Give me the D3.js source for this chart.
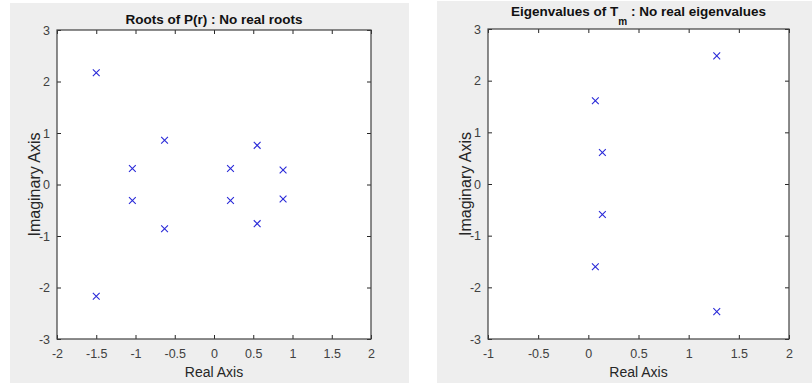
<!DOCTYPE html>
<html><head><meta charset="utf-8">
<script src="https://cdn.jsdelivr.net/npm/d3@7"></script>
<style>body{margin:0;background:#fff}svg{display:block;font-family:"Liberation Sans",Arial,sans-serif}</style>
</head><body><svg id="c" width="812" height="383"></svg>
<script>
// Data
const leftRe = [-1.5, -1.5, -1.04, -1.04, -0.63, -0.63, 0.21, 0.21, 0.55, 0.55, 0.88, 0.88];
const leftIm = [2.17, -2.17, 0.31, -0.31, 0.86, -0.86, 0.31, -0.31, 0.76, -0.76, 0.28, -0.28];
const rightRe = [0.07, 0.07, 0.14, 0.14, 1.28, 1.28];
const rightIm = [1.61, -1.60, 0.61, -0.59, 2.48, -2.47];
const leftXTicks = [-2, -1.5, -1, -0.5, 0, 0.5, 1, 1.5, 2];
const rightXTicks = [-1, -0.5, 0, 0.5, 1, 1.5, 2];
const yTicks = [-3, -2, -1, 0, 1, 2, 3];
const titles = ["Roots of P(r) : No real roots", ["Eigenvalues of T", "m", " : No real eigenvalues"]];
const xLabel = "Real Axis", yLabel = "Imaginary Axis";

const svg = d3.select("#c");

function panel(cfg) {
  const g = svg.append("g");
  g.append("rect").attr("x", cfg.bg[0]).attr("y", cfg.bg[1]).attr("width", cfg.bg[2]).attr("height", cfg.bg[3]).attr("fill", "#eeeeee");
  const x = d3.scaleLinear().domain(cfg.xDom).range([cfg.l, cfg.r]);
  const y = d3.scaleLinear().domain([-3, 3]).range([cfg.b, cfg.t]);
  g.append("rect").attr("x", cfg.l).attr("y", cfg.t).attr("width", cfg.r - cfg.l).attr("height", cfg.b - cfg.t).attr("fill", "#fff");
  const tickLen = 4;
  const fmt = d => String(d);
  const xb = g.append("g").attr("transform", `translate(0,${cfg.b})`)
    .call(d3.axisBottom(x).tickValues(cfg.xTicks).tickSizeInner(-tickLen).tickSizeOuter(0).tickPadding(10).tickFormat(fmt));
  const xt = g.append("g").attr("transform", `translate(0,${cfg.t})`)
    .call(d3.axisTop(x).tickValues(cfg.xTicks).tickSizeInner(-tickLen).tickSizeOuter(0).tickFormat(""));
  const yl = g.append("g").attr("transform", `translate(${cfg.l},0)`)
    .call(d3.axisLeft(y).tickValues(yTicks).tickSizeInner(-tickLen).tickSizeOuter(0).tickPadding(7).tickFormat(fmt));
  const yr = g.append("g").attr("transform", `translate(${cfg.r},0)`)
    .call(d3.axisRight(y).tickValues(yTicks).tickSizeInner(-tickLen).tickSizeOuter(0).tickFormat(""));
  [xb, xt, yl, yr].forEach(a => {
    a.select(".domain").remove();
    a.selectAll(".tick line").attr("stroke", "#262626");
    a.selectAll("text").attr("fill", "#404040").style("font-size", "12.5px").style("font-family", "'Liberation Sans',Arial,sans-serif");
  });
  xb.selectAll("text").attr("dy", "0.71em");
  g.append("rect").attr("x", cfg.l).attr("y", cfg.t).attr("width", cfg.r - cfg.l).attr("height", cfg.b - cfg.t)
    .attr("fill", "none").attr("stroke", "#404040").attr("stroke-width", 1.2);
  const s = 3.4;
  cfg.re.forEach((re, i) => {
    const px = x(re), py = y(cfg.im[i]);
    g.append("path").attr("d", `M${px - s},${py - s}L${px + s},${py + s}M${px - s},${py + s}L${px + s},${py - s}`)
      .attr("stroke", "#2a2ad8").attr("stroke-width", 1.1).attr("fill", "none");
  });
  const cx = (cfg.l + cfg.r) / 2, cy = (cfg.t + cfg.b) / 2;
  const tt = g.append("text").attr("x", cx).attr("y", cfg.titleY).attr("text-anchor", "middle")
    .style("font-size", "13.5px").style("font-weight", "bold").attr("fill", "#111");
  if (typeof cfg.title === "string") tt.text(cfg.title);
  else {
    tt.append("tspan").text(cfg.title[0]);
    tt.append("tspan").text(cfg.title[1]).attr("dy", 9).style("font-size", "10px");
    tt.append("tspan").text(cfg.title[2]).attr("dy", -9);
  }
  g.append("text").attr("x", cx).attr("y", 377).attr("text-anchor", "middle").style("font-size", "14px").attr("fill", "#262626").text(xLabel);
  g.append("text").attr("transform", `translate(${cfg.yLabX},${cy}) rotate(-90)`).attr("text-anchor", "middle")
    .style("font-size", "16px").attr("fill", "#262626").text(yLabel);
}

panel({bg: [10, 3, 399, 380], l: 57, r: 371, t: 30, b: 339, xDom: [-2, 2], xTicks: leftXTicks,
  re: leftRe, im: leftIm, title: titles[0], titleY: 24, yLabX: 40});
panel({bg: [437, 1, 375, 382], l: 488, r: 789, t: 29, b: 339, xDom: [-1, 2], xTicks: rightXTicks,
  re: rightRe, im: rightIm, title: titles[1], titleY: 16, yLabX: 471});
</script></body></html>
